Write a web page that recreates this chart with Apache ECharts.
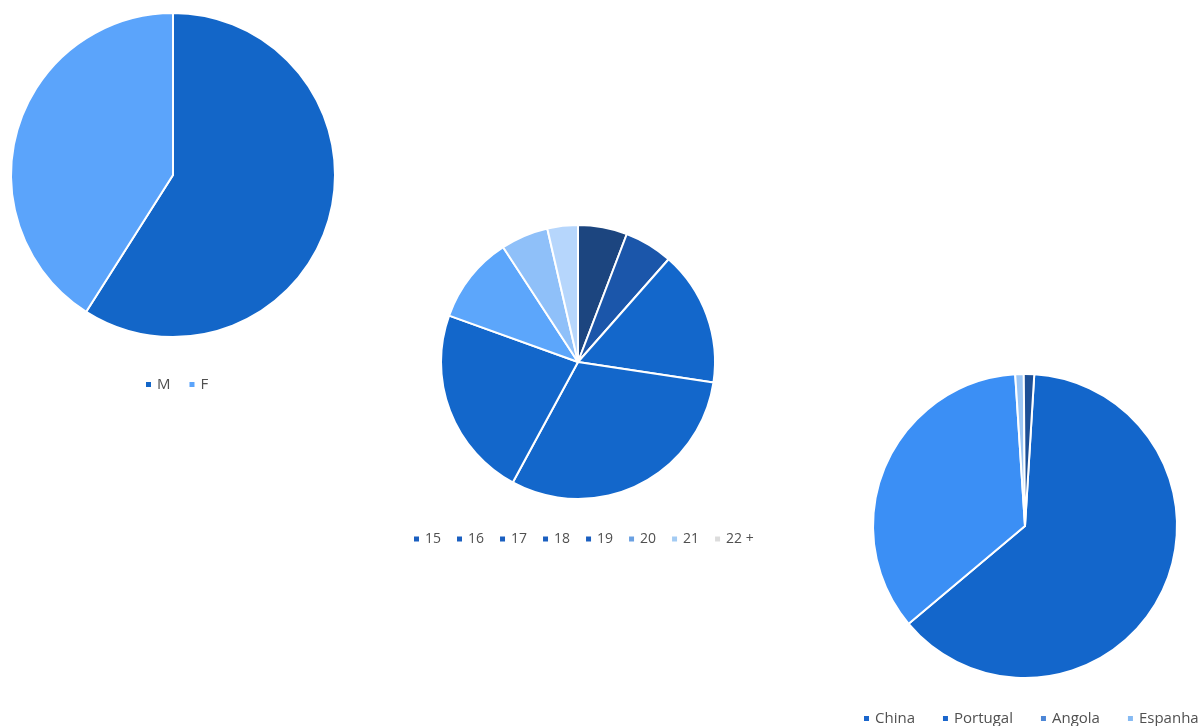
<!DOCTYPE html>
<html>
<head>
<meta charset="utf-8">
<script src="https://cdn.jsdelivr.net/npm/echarts@6/dist/echarts.min.js"></script>
<style>
html,body{margin:0;padding:0;background:#fff;}
#c{width:1201px;height:726px;}
</style>
</head>
<body>
<div id="c"></div>
<script>
// Gender
var genderNames = ['M', 'F'];
var genderValues = [59, 41];
var genderColors = ['#1366c8', '#5ba4fb'];

// Age
var ageNames = ['15', '16', '17', '18', '19', '20', '21', '22 +'];
var ageValues = [5.8, 5.7, 15.9, 30.5, 22.6, 10.3, 5.6, 3.6];
var ageColors = ['#1c457f', '#1b56aa', '#1367cb', '#1367cb', '#1367cb', '#5ca6fb', '#8fc0f9', '#b6d6fc'];
var ageLegendColors = ['#1a5fc0', '#1a5fc0', '#1a5fc0', '#1a5fc0', '#1a5fc0', '#6aa0e2', '#a3cbf3', '#dcdcdc'];

// Nationality
var natNames = ['China', 'Portugal', 'Angola', 'Espanha'];
var natValues = [62.9, 35.1, 0.9, 1.1];
var natColors = ['#1366cb', '#3b8ff5', '#9cc6f5', '#1d4f96'];
var natLegendColors = ['#1a66cc', '#1a66cc', '#4c86d6', '#86baf3'];

function mk(names, values, colors) {
  return names.map(function (n, i) {
    return { name: n, value: values[i], itemStyle: { color: colors[i] } };
  });
}
function lg(names, colors) {
  return names.map(function (n, i) {
    return { name: n, itemStyle: { color: colors[i] } };
  });
}

var commonSeries = {
  type: 'pie',
  label: { show: false },
  labelLine: { show: false },
  silent: true,
  clockwise: true,
  avoidLabelOverlap: false,
  itemStyle: { borderColor: '#ffffff', borderWidth: 2 }
};

var chart = echarts.init(document.getElementById('c'), null, { renderer: 'canvas' });
chart.setOption({
  backgroundColor: '#ffffff',
  animation: false,
  legend: [
    {
      data: lg(genderNames, genderColors),
      left: 139, top: 372,
      icon: 'rect', itemWidth: 7, itemHeight: 7, itemGap: 17,
      textStyle: { color: '#505050', fontFamily: 'Open Sans', fontSize: 15 }
    },
    {
      data: lg(ageNames, ageLegendColors),
      left: 407, top: 527,
      icon: 'rect', itemWidth: 7, itemHeight: 7, itemGap: 14,
      textStyle: { color: '#505050', fontFamily: 'Open Sans', fontSize: 14 }
    },
    {
      data: lg(natNames, natLegendColors),
      left: 857, top: 706, width: 344,
      icon: 'rect', itemWidth: 7, itemHeight: 7, itemGap: 26,
      padding: [5, 0, 5, 5],
      textStyle: { color: '#505050', fontFamily: 'Open Sans', fontSize: 15 }
    }
  ],
  series: [
    Object.assign({}, commonSeries, {
      name: 'Sexo',
      center: [173, 175],
      radius: 162,
      startAngle: 90,
      data: mk(genderNames, genderValues, genderColors)
    }),
    Object.assign({}, commonSeries, {
      name: 'Idade',
      center: [578, 362],
      radius: 137,
      startAngle: 90,
      data: mk(ageNames, ageValues, ageColors)
    }),
    Object.assign({}, commonSeries, {
      name: 'Nacionalidade',
      center: [1025, 526],
      radius: 152,
      startAngle: 86.5,
      data: mk(natNames, natValues, natColors)
    })
  ]
});
</script>
</body>
</html>
